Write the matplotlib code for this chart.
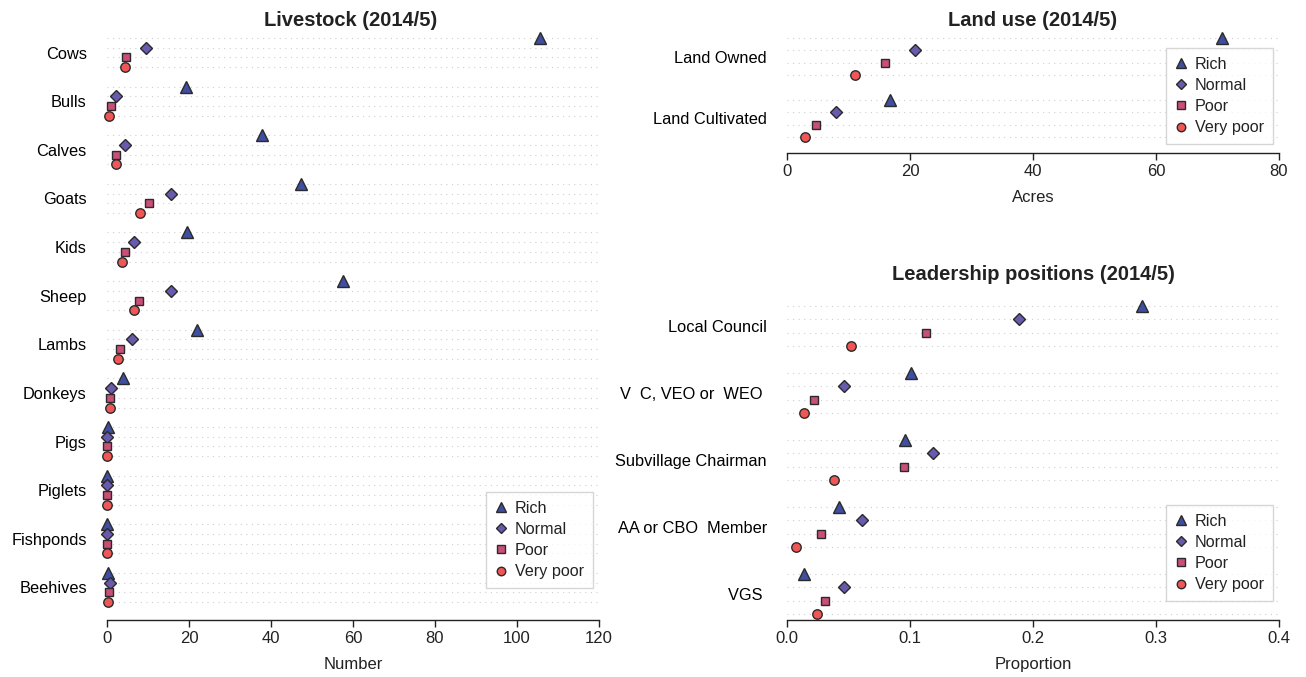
import numpy as np
import matplotlib
matplotlib.use("Agg")
from matplotlib import pyplot as plt
from matplotlib.lines import Line2D

plt.rcParams.update({
    "font.family": ["Liberation Sans", "DejaVu Sans"],
    "font.size": 12,
    "text.color": "#222222",
    "axes.labelcolor": "#222222",
    "xtick.color": "#222222",
})

# ---- data ----
groups = ["Rich", "Normal", "Poor", "Very poor"]

livestock = ["Cows", "Bulls", "Calves", "Goats", "Kids", "Sheep", "Lambs",
             "Donkeys", "Pigs", "Piglets", "Fishponds", "Beehives"]
ls_rich = [105.6, 19.3, 37.8, 47.2, 19.5, 57.6, 21.9, 4.0, 0.3, 0.0, 0.1, 0.2]
ls_normal = [9.4, 2.3, 4.4, 15.7, 6.7, 15.7, 6.2, 0.9, 0.1, 0.1, 0.1, 0.8]
ls_poor = [4.7, 1.0, 2.3, 10.3, 4.3, 7.9, 3.1, 0.8, 0.1, 0.1, 0.1, 0.6]
ls_vpoor = [4.5, 0.6, 2.3, 8.1, 3.6, 6.5, 2.6, 0.65, 0.1, 0.1, 0.1, 0.2]

land = ["Land Owned", "Land Cultivated"]
land_rich = [70.8, 16.7]
land_normal = [20.8, 7.9]
land_poor = [15.9, 4.7]
land_vpoor = [11.0, 2.9]

lead = ["Local Council", "V  C, VEO or  WEO ", "Subvillage Chairman",
        "AA or CBO  Member", "VGS "]
lead_rich = [0.289, 0.101, 0.096, 0.042, 0.014]
lead_normal = [0.189, 0.046, 0.119, 0.061, 0.046]
lead_poor = [0.113, 0.022, 0.095, 0.028, 0.031]
lead_vpoor = [0.052, 0.014, 0.038, 0.007, 0.024]

colors = ["#3F4E9E", "#6A5AAE", "#C94F78", "#F05656"]
markers = ["^", "D", "s", "o"]
msizes = [8, 5.8, 5.8, 6.8]
edge = "#2a2a2a"

W, H = 1306, 677
fig = plt.figure(figsize=(W / 100, H / 100), dpi=100)


def px_axes(x0, x1, ytop, ybot):
    return fig.add_axes([x0 / W, 1 - ybot / H, (x1 - x0) / W, (ybot - ytop) / H])


def dotplot(ax, cats, series, xmax, xticks, xticklabels, xlabel,
            row_top_px, row_bot_px, ax_top_px, ax_bot_px):
    n = len(cats)
    last = n * 5 - 2
    ppu = (row_bot_px - row_top_px) / last
    for i in range(n):
        for j in range(4):
            ax.hlines(i * 5 + j, 0, xmax, colors="#cfcfcf", linestyles=(0, (1, 4)),
                      linewidth=0.8, zorder=1)
    for j, vals in enumerate(series):
        ys = np.arange(n) * 5 + j
        ax.plot(vals, ys, linestyle="none", marker=markers[j], ms=msizes[j],
                mfc=colors[j], mec=edge, mew=1.0, clip_on=False, zorder=3)
    ax.set_xlim(0, xmax)
    ax.set_ylim(last + (ax_bot_px - row_bot_px) / ppu,
                -(row_top_px - ax_top_px) / ppu)
    ax.set_yticks(np.arange(n) * 5 + 1.5)
    ax.set_yticklabels(cats)
    ax.tick_params(axis="y", length=0, pad=14.5, labelsize=11.8)
    ax.set_xticks(xticks)
    ax.set_xticklabels(xticklabels)
    ax.tick_params(axis="x", length=5, width=1, pad=3, labelsize=12)
    for s in ["top", "right", "left"]:
        ax.spines[s].set_visible(False)
    ax.spines["bottom"].set_color("#222222")
    ax.spines["bottom"].set_linewidth(1.0)
    ax.set_xlabel(xlabel, fontsize=12, labelpad=8)
    ax.patch.set_alpha(0)


def add_legend(ax, right_px, top_px):
    handles = [Line2D([], [], linestyle="none", marker=markers[j], ms=msizes[j] * 0.9,
                      mfc=colors[j], mec=edge, mew=1.0) for j in range(4)]
    leg = ax.legend(handles, groups, loc="upper right",
                    bbox_to_anchor=(right_px / W, 1 - top_px / H),
                    bbox_transform=fig.transFigure, borderaxespad=0,
                    fontsize=11.6, frameon=True, fancybox=False,
                    handlelength=0.8, handletextpad=0.45, labelspacing=0.38,
                    borderpad=0.55)
    leg.get_frame().set_edgecolor("#cccccc")
    leg.get_frame().set_linewidth(1.0)


# Livestock
ax1 = px_axes(107, 599, 28, 620)
dotplot(ax1, livestock, [ls_rich, ls_normal, ls_poor, ls_vpoor], 120,
        [0, 20, 40, 60, 80, 100, 120], ["0", "20", "40", "60", "80", "100", "120"],
        "Number", 38, 602, 28, 620)
add_legend(ax1, 593, 492)
fig.text(351 / W, 1 - 20 / H, "Livestock (2014/5)", ha="center", va="center",
         fontsize=14.5, fontweight="bold")

# Land use
ax2 = px_axes(787, 1279, 28, 153)
dotplot(ax2, land, [land_rich, land_normal, land_poor, land_vpoor], 80,
        [0, 20, 40, 60, 80], ["0", "20", "40", "60", "80"],
        "Acres", 38, 137, 28, 153)
add_legend(ax2, 1273, 48)
fig.text(1033 / W, 1 - 20 / H, "Land use (2014/5)", ha="center", va="center",
         fontsize=14.5, fontweight="bold")

# Leadership
ax3 = px_axes(787, 1279, 290, 620)
dotplot(ax3, lead, [lead_rich, lead_normal, lead_poor, lead_vpoor], 0.4,
        [0, 0.1, 0.2, 0.3, 0.4], ["0.0", "0.1", "0.2", "0.3", "0.4"],
        "Proportion", 306, 614, 290, 620)
add_legend(ax3, 1273, 505)
fig.text(1033 / W, 1 - 275 / H, "Leadership positions (2014/5)", ha="center",
         va="center", fontsize=14.5, fontweight="bold")

fig.savefig("out.png", dpi=100)
